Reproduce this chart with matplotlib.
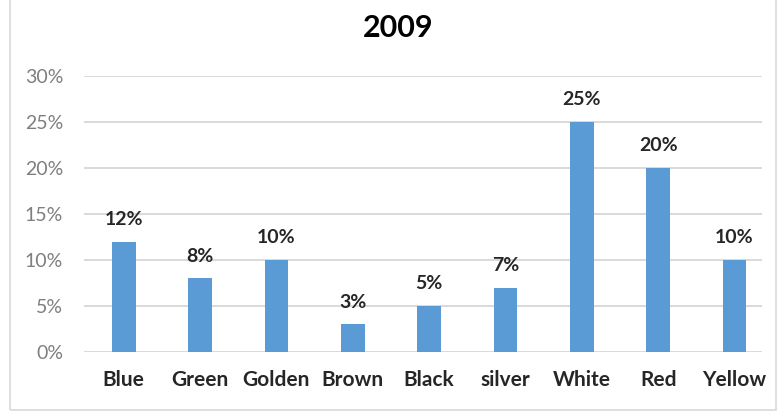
import matplotlib
matplotlib.use("Agg")
import matplotlib.pyplot as plt
from matplotlib.patches import Rectangle

categories = ["Blue", "Green", "Golden", "Brown", "Black", "silver", "White", "Red", "Yellow"]
values = [12, 8, 10, 3, 5, 7, 25, 20, 10]
yticks = [0, 5, 10, 15, 20, 25, 30]
title = "2009"

plt.rcParams['font.family'] = ['Lato', 'DejaVu Sans']

fig = plt.figure(figsize=(7.8, 4.12), dpi=100)
fig.patches.append(Rectangle((10/780, 2/412), 766/780, 420/412, transform=fig.transFigure,
                             fill=False, edgecolor='#D9D9D9', linewidth=1.2))
ax = fig.add_axes([84/780, 1-352/412, (762-84)/780, (352-76)/412])

x = list(range(len(categories)))
ax.bar(x, values, width=0.31, color='#5B9BD5', zorder=3)
for xi, v in zip(x, values):
    ax.text(xi, v + 1.5, f"{v}%", ha='center', va='bottom', fontsize=14,
            fontweight='bold', color='#262626')

ax.set_ylim(0, 30)
ax.set_xlim(-0.52, 8.36)
ax.set_yticks(yticks)
ax.set_yticklabels([f"{t}%" for t in yticks], color='#7F7F7F', fontsize=14)
ax.set_xticks(x)
ax.set_xticklabels(categories, fontsize=15, fontweight='bold', color='#262626')
ax.tick_params(axis='both', length=0)
ax.tick_params(axis='y', pad=15)
ax.tick_params(axis='x', pad=13)
ax.yaxis.grid(True, color='#D9D9D9', linewidth=1.4, zorder=0)
for s in ax.spines.values():
    s.set_visible(False)

fig.text(398/780, 1-28/412, title, ha='center', va='center', fontsize=22, fontweight='bold', color='#000000')

fig.savefig("out.png", dpi=100)
